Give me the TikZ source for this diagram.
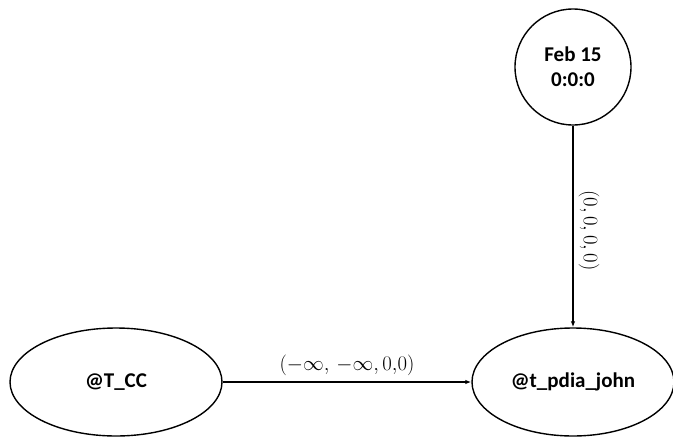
\documentclass[tikz,border=0pt]{standalone}
\usepackage{fontspec}
\setmainfont{Carlito}
\usetikzlibrary{shapes.geometric,arrows.meta}
\begin{document}
\begin{tikzpicture}[x=1pt,y=-1pt,
  state/.style={draw,line width=1.4pt,ellipse,inner sep=0pt,font=\bfseries\fontsize{21}{25}\selectfont,align=center},
  conn/.style={line width=1.4pt,-{Latex[length=6pt,width=4.5pt]}},
  elabel/.style={font=\fontsize{21}{25}\selectfont}]
  \useasboundingbox (0,0) rectangle (673,437);
  \node[state,circle,minimum size=116pt] (feb) at (573,67) {Feb 15\\0:0:0};
  \node[state,minimum width=212pt,minimum height=108pt] (tcc) at (116,382) {@T\_CC};
  \node[state,minimum width=202pt,minimum height=108pt] (pdia) at (573,382) {@t\_pdia\_john};
  \draw[conn] (tcc.east) -- node[elabel,above,inner sep=6pt] {$(-\infty,\,-\infty,0{,}0)$} (pdia.west);
  \draw[conn] (feb.south) -- node[elabel,pos=0.52,rotate=-90,anchor=south,inner sep=5pt] {$(0,0,0,0)$} (pdia.north);
\end{tikzpicture}
\end{document}
